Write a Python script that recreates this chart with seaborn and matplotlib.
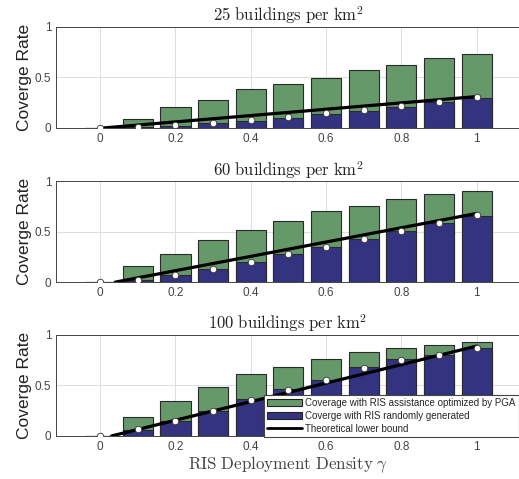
import numpy as np
import pandas as pd
import matplotlib
matplotlib.use("Agg")
import matplotlib.pyplot as plt
import seaborn as sns
from matplotlib.patches import Patch
from matplotlib.lines import Line2D

# данные
gamma = [0.0, 0.1, 0.2, 0.3, 0.4, 0.5, 0.6, 0.7, 0.8, 0.9, 1.0]
panel_titles = [r"$\mathrm{25\ buildings\ per\ km^2}$",
                r"$\mathrm{60\ buildings\ per\ km^2}$",
                r"$\mathrm{100\ buildings\ per\ km^2}$"]

pga_25 = [0.0, 0.086, 0.205, 0.274, 0.38, 0.43, 0.49, 0.571, 0.62, 0.687, 0.727]
rand_25 = [0.0, 0.005, 0.02, 0.05, 0.07, 0.10, 0.14, 0.17, 0.21, 0.26, 0.30]
sim_25 = [0.0, 0.01, 0.03, 0.05, 0.075, 0.11, 0.15, 0.18, 0.22, 0.26, 0.305]
bound_x_25 = [0.01, 1.0]
bound_y_25 = [0.0, 0.31]

pga_60 = [0.0, 0.16, 0.274, 0.412, 0.514, 0.60, 0.699, 0.758, 0.818, 0.87, 0.903]
rand_60 = [0.0, 0.02, 0.075, 0.125, 0.20, 0.28, 0.35, 0.43, 0.51, 0.59, 0.655]
sim_60 = [0.0, 0.025, 0.07, 0.13, 0.20, 0.28, 0.35, 0.43, 0.51, 0.59, 0.66]
bound_x_60 = [0.04, 1.0]
bound_y_60 = [0.0, 0.68]

pga_100 = [0.0, 0.184, 0.345, 0.484, 0.612, 0.687, 0.766, 0.829, 0.875, 0.901, 0.934]
rand_100 = [0.0, 0.0625, 0.145, 0.243, 0.365, 0.46, 0.553, 0.68, 0.757, 0.80, 0.875]
sim_100 = [0.0, 0.065, 0.15, 0.25, 0.36, 0.455, 0.555, 0.675, 0.75, 0.80, 0.87]
bound_x_100 = [0.03, 1.0]
bound_y_100 = [0.0, 0.89]

panels = [
    (pga_25, rand_25, sim_25, bound_x_25, bound_y_25),
    (pga_60, rand_60, sim_60, bound_x_60, bound_y_60),
    (pga_100, rand_100, sim_100, bound_x_100, bound_y_100),
]

green = "#66996a"
blue = "#333380"

sns.set_style("white")
plt.rcParams["mathtext.fontset"] = "cm"
plt.rcParams["font.family"] = ["Liberation Sans", "DejaVu Sans"]

fig = plt.figure(figsize=(5.19, 4.79), dpi=100)
bottoms = [0.733, 0.411, 0.0898]
axes = []
for i, (pga, rnd, sim, bx, by) in enumerate(panels):
    ax = fig.add_axes([0.108, bottoms[i], 0.894, 0.211])
    axes.append(ax)
    sns.barplot(x=gamma, y=pga, native_scale=True, width=0.8, color=green,
                saturation=1, edgecolor="#2a2a2a", linewidth=0.8, ax=ax)
    sns.barplot(x=gamma, y=rnd, native_scale=True, width=0.8, color=blue,
                saturation=1, edgecolor="#2a2a2a", linewidth=0.8, ax=ax)
    sns.lineplot(x=bx, y=by, color="black", linewidth=2.3, ax=ax)
    sns.scatterplot(x=gamma, y=sim, color="white", edgecolor="#333333",
                    linewidth=0.6, s=22, zorder=5, ax=ax)
    ax.set_xlim(-0.117, 1.115)
    ax.set_ylim(0, 1)
    ax.set_xticks([0, 0.2, 0.4, 0.6, 0.8, 1.0])
    ax.set_xticklabels(["0", "0.2", "0.4", "0.6", "0.8", "1"])
    ax.set_yticks([0, 0.5, 1])
    ax.set_yticklabels(["0", "0.5", "1"])
    ax.grid(True, color="#dddddd", linewidth=0.7)
    ax.set_axisbelow(True)
    ax.tick_params(labelsize=8.5, colors="#444444", length=3, direction="in")
    for sp in ax.spines.values():
        sp.set_color("#444444")
        sp.set_linewidth(0.7)
    ax.set_ylabel("Coverge Rate", fontsize=12.5, color="#222222", labelpad=2)
    ax.set_title(panel_titles[i], fontsize=12, pad=4, color="#222222")

axes[2].set_xlabel(r"$\mathrm{RIS\ Deployment\ Density}\ \gamma$", fontsize=12.2,
                   color="#444444", labelpad=1)

handles = [
    Patch(facecolor=green, edgecolor="#222222", linewidth=0.8),
    Patch(facecolor=blue, edgecolor="#222222", linewidth=0.8),
    Line2D([0], [0], color="black", linewidth=2),
]
labels = ["Coverage with RIS assistance optimized by PGA",
          "Coverge with RIS randomly generated",
          "Theoretical lower bound"]
leg = axes[2].legend(handles, labels, loc="upper left", bbox_to_anchor=(0.449, 0.405),
                     fontsize=7.0, frameon=True, fancybox=False, borderpad=0.3,
                     labelspacing=0.3, handlelength=3.6, handletextpad=0.3,
                     borderaxespad=0)
leg.get_frame().set_edgecolor("#444444")
leg.get_frame().set_linewidth(0.8)
leg.get_frame().set_alpha(1)

fig.savefig("out.png", dpi=100)
